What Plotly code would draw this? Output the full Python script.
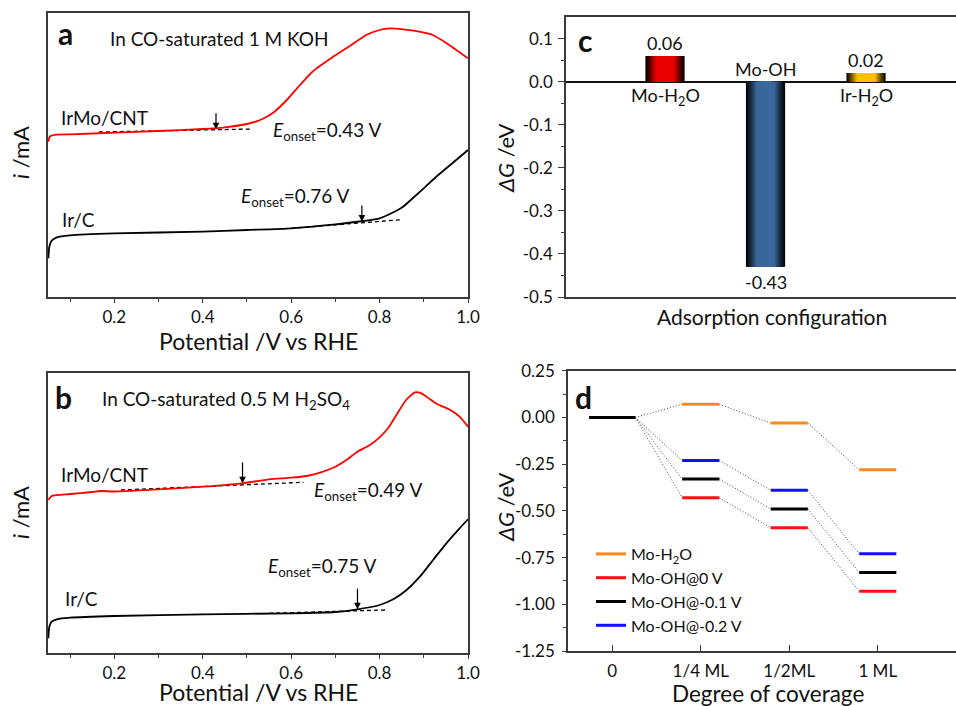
import plotly.graph_objects as go
import numpy as np

W, H = 956, 706
FONT = "Lato"
TXT = "#111111"
AX = "#3a3a3a"

# ---------------- Panel a (CO-saturated 1 M KOH) ----------------
a_red_v = [0.0508, 0.054, 0.062, 0.10, 0.20, 0.30, 0.40, 0.45, 0.50, 0.53, 0.56, 0.59,
           0.62, 0.65, 0.695, 0.73, 0.77, 0.80, 0.823, 0.853, 0.89, 0.92, 0.95, 1.0]
a_red_i = [155.3, 160.3, 162.0, 162.7, 164.3, 166.0, 168.0, 169.7, 173.0, 177.0, 184.5, 197.0,
           212.0, 226.0, 240.3, 250.3, 262.0, 267.0, 268.7, 267.7, 265.3, 262.0, 254.3, 238.7]
a_blk_v = [0.0508, 0.053, 0.058, 0.070, 0.10, 0.20, 0.40, 0.50, 0.60, 0.70, 0.7626, 0.80,
           0.8267, 0.853, 0.883, 0.90, 0.928, 0.951, 1.0]
a_blk_i = [38.7, 50.3, 56.3, 59.7, 61.7, 63.7, 65.3, 67.0, 68.7, 72.7, 76.0, 78.7,
           83.7, 90.3, 102.0, 108.7, 120.3, 128.7, 147.0]
a_red_tan_v = [0.165, 0.513]
a_red_tan_i = [165.0, 168.0]
a_blk_tan_v = [0.60, 0.85]
a_blk_tan_i = [68.7, 77.3]
a_onset = [0.43, 0.76]          # red, black
a_arrow_i = [(185.3, 167.7), (93.0, 75.3)]

# ---------------- Panel b (CO-saturated 0.5 M H2SO4) ----------------
b_red_v = [0.0508, 0.0583, 0.10, 0.15, 0.168, 0.20, 0.30, 0.40, 0.49, 0.55, 0.60, 0.635,
           0.665, 0.70, 0.725, 0.75, 0.778, 0.80, 0.819, 0.838, 0.86, 0.88, 0.891, 0.906,
           0.930, 0.960, 0.981, 1.0]
b_red_i = [153.0, 157.0, 159.0, 161.0, 162.0, 161.5, 163.7, 166.3, 169.7, 173.7, 175.3, 177.0,
           180.3, 186.3, 193.0, 201.3, 208.0, 215.7, 224.7, 238.0, 253.0, 260.7, 260.3, 256.3,
           249.0, 243.0, 236.3, 226.3]
b_blk_v = [0.0508, 0.053, 0.0583, 0.07, 0.10, 0.20, 0.40, 0.60, 0.70, 0.75, 0.80, 0.831,
           0.861, 0.891, 0.921, 0.951, 0.981, 1.0]
b_blk_i = [14.7, 26.3, 31.3, 33.7, 35.3, 37.0, 38.7, 39.7, 41.0, 43.7, 48.0, 53.7,
           63.0, 76.3, 93.0, 109.7, 124.7, 133.7]
b_red_tan_v = [0.215, 0.628]
b_red_tan_i = [163.0, 170.7]
b_blk_tan_v = [0.55, 0.813]
b_blk_tan_i = [39.7, 43.0]
b_onset = [0.49, 0.75]
b_arrow_i = [(192.0, 169.7), (65.7, 43.7)]

# ---------------- Panel c (adsorption energies) ----------------
c_labels = ["Mo-H<sub>2</sub>O", "Mo-OH", "Ir-H<sub>2</sub>O"]
c_values = [0.06, -0.43, 0.02]
c_value_text = ["0.06", "-0.43", "0.02"]
c_colors = [(235, 0, 0), (58, 104, 156), (255, 193, 0)]
c_yticks = [0.1, 0.0, -0.1, -0.2, -0.3, -0.4, -0.5]
c_yticktext = ["0.1", "0.0", "-0.1", "-0.2", "-0.3", "-0.4", "-0.5"]

# ---------------- Panel d (coverage dependence) ----------------
d_cats = ["0", "1/4 ML", "1/2ML", "1 ML"]
d_series = ["Mo-H<sub>2</sub>O", "Mo-OH@0 V", "Mo-OH@-0.1 V", "Mo-OH@-0.2 V"]
d_values = {
    "Mo-H<sub>2</sub>O": [0.00, 0.07, -0.03, -0.28],
    "Mo-OH@0 V": [0.00, -0.43, -0.59, -0.93],
    "Mo-OH@-0.1 V": [0.00, -0.33, -0.49, -0.83],
    "Mo-OH@-0.2 V": [0.00, -0.23, -0.39, -0.73],
}
d_colors = {
    "Mo-H<sub>2</sub>O": "#ff8a1c",
    "Mo-OH@0 V": "#ff1010",
    "Mo-OH@-0.1 V": "#000000",
    "Mo-OH@-0.2 V": "#1010ff",
}
d_yticks = [0.25, 0.0, -0.25, -0.5, -0.75, -1.0, -1.25]
d_yticktext = ["0.25", "0.00", "-0.25", "-0.50", "-0.75", "-1.00", "-1.25"]

fig = go.Figure()

# ---- panels a & b curves
def add_cv(xa, ya, rv, ri, bv, bi, rtv, rti, btv, bti):
    for tv, ti in [(rtv, rti), (btv, bti)]:
        fig.add_trace(go.Scatter(x=tv, y=ti, mode="lines", xaxis=xa, yaxis=ya,
                                 line=dict(color="black", width=1.3, dash="4px,3px"),
                                 showlegend=False, hoverinfo="skip"))
    fig.add_trace(go.Scatter(x=rv, y=ri, mode="lines", xaxis=xa, yaxis=ya,
                             line=dict(color="#ff0000", width=1.8, shape="spline", smoothing=0.6),
                             showlegend=False))
    fig.add_trace(go.Scatter(x=bv, y=bi, mode="lines", xaxis=xa, yaxis=ya,
                             line=dict(color="#000000", width=1.8, shape="spline", smoothing=0.6),
                             showlegend=False))

add_cv("x", "y", a_red_v, a_red_i, a_blk_v, a_blk_i, a_red_tan_v, a_red_tan_i, a_blk_tan_v, a_blk_tan_i)
add_cv("x2", "y2", b_red_v, b_red_i, b_blk_v, b_blk_i, b_red_tan_v, b_red_tan_i, b_blk_tan_v, b_blk_tan_i)

# ---- panel c gradient bars (overlaid, narrowing, brightening)
c_pos = [1, 2, 3]
bar_w = 0.39
N = 18
for k in range(N):
    frac = 1 - k / N
    t = (k + 0.5) / N
    f = min(1.0, t / 0.55) ** 1.1
    cols = ["rgb(%d,%d,%d)" % tuple(int(ch * f) for ch in c) for c in c_colors]
    fig.add_trace(go.Bar(x=c_pos, y=c_values, width=[bar_w * frac] * 3, xaxis="x3", yaxis="y3",
                         marker=dict(color=cols, line=dict(width=0)),
                         showlegend=False, hoverinfo="skip"))

# ---- panel d levels
d_pos = [0, 1, 2, 3]
d_half = [0.26, 0.21, 0.21, 0.21]
for s in d_series:
    vals = d_values[s]
    cx, cy = [], []
    for j in range(len(d_pos) - 1):
        cx += [d_pos[j] + d_half[j], d_pos[j + 1] - d_half[j + 1], None]
        cy += [vals[j], vals[j + 1], None]
    fig.add_trace(go.Scatter(x=cx, y=cy, mode="lines", xaxis="x4", yaxis="y4",
                             line=dict(color="#444444", width=1, dash="1px,2px"),
                             showlegend=False, hoverinfo="skip"))
draw_order = ["Mo-H<sub>2</sub>O", "Mo-OH@0 V", "Mo-OH@-0.2 V", "Mo-OH@-0.1 V"]
for s in draw_order:
    vals = d_values[s]
    lx, ly = [], []
    for j, p in enumerate(d_pos):
        lx += [p - d_half[j], p + d_half[j], None]
        ly += [vals[j], vals[j], None]
    fig.add_trace(go.Scatter(x=lx, y=ly, mode="lines", xaxis="x4", yaxis="y4", name=s,
                             legendrank=d_series.index(s) + 1,
                             line=dict(color=d_colors[s], width=3), showlegend=True))

# ---- axes
tickfont = dict(family=FONT, size=17, color=TXT)
dom_ab_x = [48 / W, 468 / W]
common_line = dict(showline=True, linecolor=AX, linewidth=1.5, showgrid=False, zeroline=False,
                   automargin=False)

fig.update_layout(
    width=W, height=H, autosize=False, margin=dict(l=0, r=0, t=0, b=0, pad=0, autoexpand=False),
    paper_bgcolor="white", plot_bgcolor="white", barmode="overlay",
    font=dict(family=FONT, color=TXT),
    xaxis=dict(domain=dom_ab_x, anchor="y", range=[0.05, 1.0], mirror=True, ticks="outside",
               ticklen=4, tickcolor=AX, tickvals=[0.2, 0.4, 0.6, 0.8, 1.0],
               ticktext=["0.2", "0.4", "0.6", "0.8", "1.0"], tickfont=tickfont,
               minor=dict(tickvals=[0.1, 0.3, 0.5, 0.7, 0.9], ticks="outside", ticklen=3, tickcolor=AX),
               **common_line),
    yaxis=dict(domain=[1 - 297 / H, 1 - 13 / H], anchor="x", range=[0, 284], mirror=True,
               ticks="", showticklabels=False, **common_line),
    xaxis2=dict(domain=dom_ab_x, anchor="y2", range=[0.05, 1.0], mirror=True, ticks="outside",
                ticklen=4, tickcolor=AX, tickvals=[0.2, 0.4, 0.6, 0.8, 1.0],
                ticktext=["0.2", "0.4", "0.6", "0.8", "1.0"], tickfont=tickfont,
                minor=dict(tickvals=[0.1, 0.3, 0.5, 0.7, 0.9], ticks="outside", ticklen=3, tickcolor=AX),
                **common_line),
    yaxis2=dict(domain=[1 - 653 / H, 1 - 373 / H], anchor="x2", range=[0, 280], mirror=True,
                ticks="", showticklabels=False, **common_line),
    xaxis3=dict(domain=[566 / W, 1.0], anchor="y3", range=[0.015, 3.895], mirror=True,
                ticks="", showticklabels=False, **common_line),
    yaxis3=dict(domain=[1 - 297 / H, 1 - 16.7 / H], anchor="x3", range=[-0.5, 0.151],
                ticks="outside", ticklen=6, tickcolor=AX, tickvals=c_yticks, ticktext=c_yticktext,
                tickfont=tickfont, ticklabelstandoff=2,
                minor=dict(tickvals=[0.05, -0.05, -0.15, -0.25, -0.35, -0.45], ticks="outside",
                           ticklen=3, tickcolor=AX),
                showline=True, linecolor=AX, linewidth=1.5, showgrid=False, automargin=False,
                zeroline=True, zerolinecolor="#111111", zerolinewidth=2),
    xaxis4=dict(domain=[568 / W, 1.0], anchor="y4", range=[-0.5, 3.884], mirror=True,
                ticks="inside", ticklen=6, tickcolor=AX, tickvals=d_pos, ticktext=d_cats,
                tickfont=tickfont, ticklabelstandoff=4, **common_line),
    yaxis4=dict(domain=[1 - 651 / H, 1 - 370.7 / H], anchor="x4", range=[-1.25, 0.25],
                ticks="outside", ticklen=4, tickcolor=AX, tickvals=d_yticks, ticktext=d_yticktext,
                tickfont=tickfont, ticklabelstandoff=4,
                minor=dict(tickvals=[0.125, -0.125, -0.375, -0.625, -0.875, -1.125], ticks="outside",
                           ticklen=3, tickcolor=AX),
                **common_line),
    legend=dict(x=591 / W, y=1 - 537 / H, xanchor="left", yanchor="top", bgcolor="rgba(0,0,0,0)",
                font=dict(family=FONT, size=16, color=TXT), tracegroupgap=0, itemwidth=30,
                traceorder="normal"),
)

ann = []
def A(text, x, y, xref, yref, size=19, xanchor="left", yanchor="middle", angle=0, **kw):
    ann.append(dict(text=text, x=x, y=y, xref=xref, yref=yref, showarrow=False,
                    xanchor=xanchor, yanchor=yanchor, textangle=angle,
                    font=dict(family=FONT, size=size, color=TXT), **kw))

# panel a texts
A("<b>a</b>", 0.068, 264, "x", "y", size=30)
A("In CO-saturated 1 M KOH", 0.186, 259, "x", "y")
A("IrMo/CNT", 0.075, 180, "x", "y")
A("Ir/C", 0.077, 78, "x", "y")
A("<i>E</i><sub>onset</sub>=%.2f V" % a_onset[0], 0.554, 166, "x", "y")
A("<i>E</i><sub>onset</sub>=%.2f V" % a_onset[1], 0.482, 100, "x", "y")
# panel b texts
A("<b>b</b>", 0.062, 256, "x2", "y2", size=30)
A("In CO-saturated 0.5 M H<sub>2</sub>SO<sub>4</sub>", 0.168, 253, "x2", "y2")
A("IrMo/CNT", 0.075, 178, "x2", "y2")
A("Ir/C", 0.084, 55, "x2", "y2")
A("<i>E</i><sub>onset</sub>=%.2f V" % b_onset[0], 0.647, 162, "x2", "y2")
A("<i>E</i><sub>onset</sub>=%.2f V" % b_onset[1], 0.543, 86, "x2", "y2")

# arrows
for (xr, yr, onsets, arr) in [("x", "y", a_onset, a_arrow_i), ("x2", "y2", b_onset, b_arrow_i)]:
    for v, (y0, y1) in zip(onsets, arr):
        ann.append(dict(x=v, y=y1, ax=v, ay=y0, xref=xr, yref=yr, axref=xr, ayref=yr,
                        text="", showarrow=True, arrowhead=2, arrowsize=1.1, arrowwidth=1.2,
                        arrowcolor="black", standoff=0, startstandoff=0))

# axis titles
A("<i>i</i> /mA", 20 / W, 1 - 153 / H, "paper", "paper", size=22, xanchor="center", angle=-90)
A("<i>i</i> /mA", 20 / W, 1 - 513 / H, "paper", "paper", size=22, xanchor="center", angle=-90)
A("Potential /V vs RHE", 258 / W, 1 - 341 / H, "paper", "paper", size=23, xanchor="center")
A("Potential /V vs RHE", 258 / W, 0, "paper", "paper", size=23, xanchor="center",
  yanchor="bottom", yshift=-2)
A("<i>ΔG</i> /eV", 505 / W, 1 - 158 / H, "paper", "paper", size=22, xanchor="center", angle=-90)
A("<i>ΔG</i> /eV", 505 / W, 1 - 507 / H, "paper", "paper", size=22, xanchor="center", angle=-90)
A("Adsorption configuration", 772 / W, 1 - 316 / H, "paper", "paper", size=21, xanchor="center")
A("Degree of coverage", 768 / W, 1 - 693 / H, "paper", "paper", size=22.5, xanchor="center")

# panel c labels
A("<b>c</b>", 0.115, 0.097, "x3", "y3", size=30)
for p, v, lab, vt in zip(c_pos, c_values, c_labels, c_value_text):
    if v >= 0:
        A(vt, p, v, "x3", "y3", size=18, xanchor="center", yanchor="bottom")
        A(lab, p, 0, "x3", "y3", size=18, xanchor="center", yanchor="top")
    else:
        A(vt, p, v, "x3", "y3", size=18, xanchor="center", yanchor="top", yshift=-2)
        A(lab, p, 0, "x3", "y3", size=18, xanchor="center", yanchor="bottom")

# panel d label
A("<b>d</b>", -0.444, 0.109, "x4", "y4", size=30)

fig.update_layout(annotations=ann)
fig.write_html(
    "out.html",
    config={"displayModeBar": False},
    post_script=("document.documentElement.style.margin='0';"
                 "document.body.style.margin='0';"
                 "document.body.style.overflow='hidden';"),
)
